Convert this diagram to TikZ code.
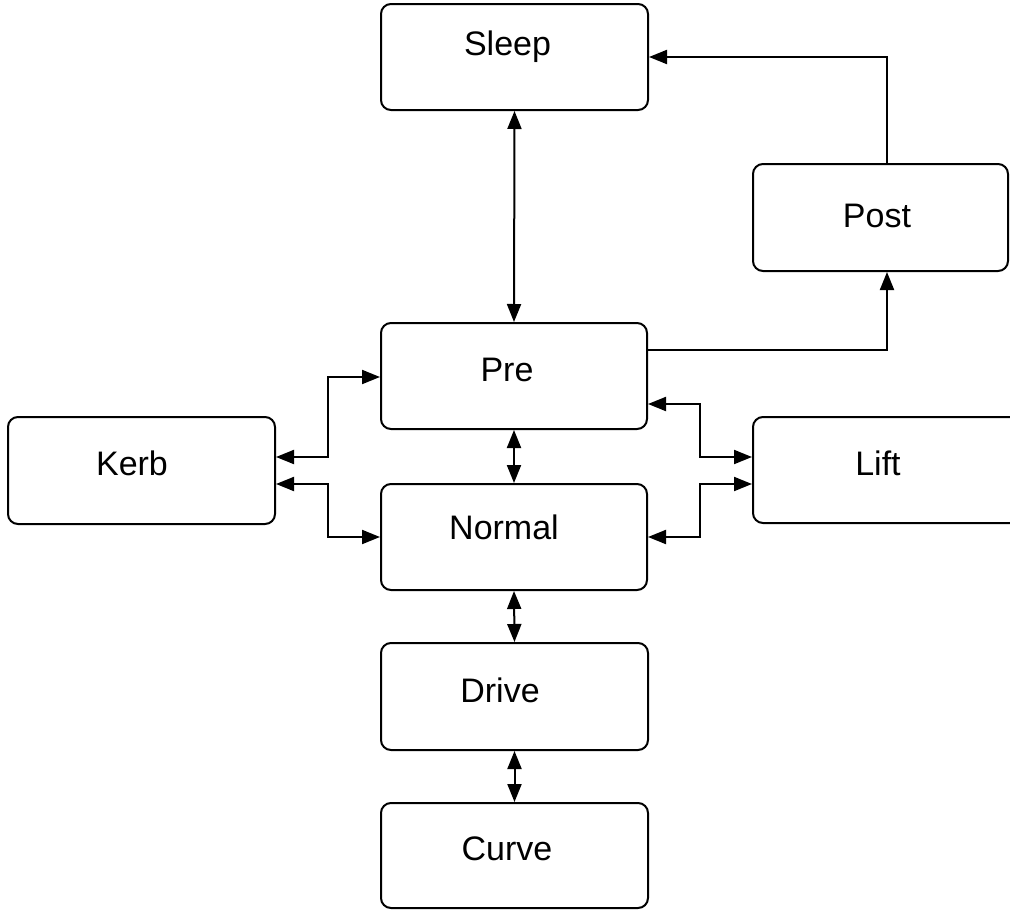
\documentclass[tikz,border=0pt]{standalone}
\usepackage{fontspec}
\setmainfont{Liberation Sans}
\usetikzlibrary{arrows.meta}
\begin{document}
\begin{tikzpicture}[x=1pt,y=-1pt,
  box/.style={draw=black, line width=2pt, rounded corners=10pt, rectangle, inner sep=0pt},
  lbl/.style={anchor=base, inner sep=0pt, font=\fontsize{34}{40}\selectfont},
  conn/.style={line width=2pt},
  tip/.tip={Triangle[length=18pt,width=14pt]}]
\useasboundingbox (0,0) rectangle (1010,910);
% boxes
\node[box, minimum width=267pt, minimum height=106pt] (sleep) at (514.5,57) {};
\node[box, minimum width=266pt, minimum height=106pt] (pre) at (514,376) {};
\node[box, minimum width=266pt, minimum height=106pt] (normal) at (514,537) {};
\node[box, minimum width=267pt, minimum height=107pt] (drive) at (514.5,696.5) {};
\node[box, minimum width=267pt, minimum height=105pt] (curve) at (514.5,855.5) {};
\node[box, minimum width=267pt, minimum height=107pt] (kerb) at (141.5,470.5) {};
\node[box, minimum width=267pt, minimum height=106pt] (lift) at (886.5,470) {};
\node[box, minimum width=255pt, minimum height=107pt] (post) at (880.5,217.5) {};
% labels
\node[lbl] (sleepT) at (507.5,55) {Sleep};
\node[lbl] (preT) at (507,381) {Pre};
\node[lbl] (normalT) at (504,539) {Normal};
\node[lbl] (driveT) at (500,702) {Drive};
\node[lbl] (curveT) at (507,860) {Curve};
\node[lbl] (kerbT) at (132,475) {Kerb};
\node[lbl] (liftT) at (878,475) {Lift};
\node[lbl] (postT) at (877,227) {Post};
% connectors
\draw[conn, {tip}-{tip}] (sleep.south) -- (pre.north);
\draw[conn, {tip}-{tip}] (pre.south) -- (normal.north);
\draw[conn, {tip}-{tip}] (normal.south) -- (drive.north);
\draw[conn, {tip}-{tip}] (drive.south) -- (curve.north);
\draw[conn, -{tip}] (post.north -| 887,0) |- (sleep.east);
\draw[conn, -{tip}] (pre.east |- 0,350) -| (post.south -| 887,0);
\draw[conn, {tip}-{tip}] (kerb.east |- 0,457) -| (328,377) -- (pre.west |- 0,377);
\draw[conn, {tip}-{tip}] (kerb.east |- 0,484) -| (328,537) -- (normal.west |- 0,537);
\draw[conn, {tip}-{tip}] (pre.east |- 0,404) -| (700,457) -- (lift.west |- 0,457);
\draw[conn, {tip}-{tip}] (normal.east |- 0,537) -| (700,484) -- (lift.west |- 0,484);
\end{tikzpicture}
\end{document}
